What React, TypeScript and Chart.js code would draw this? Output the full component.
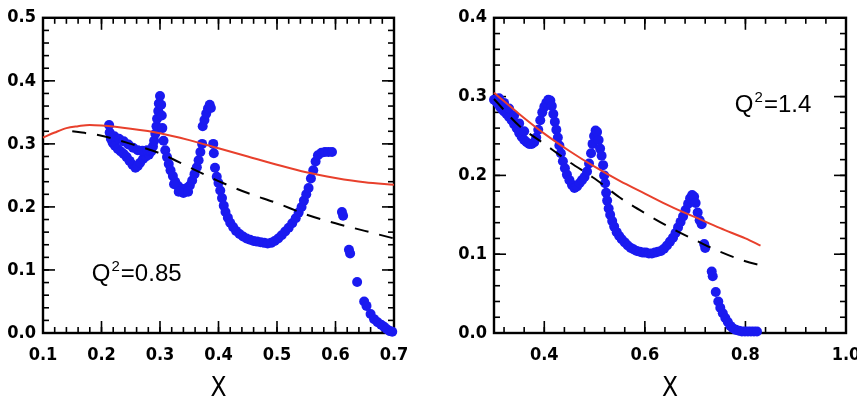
import React, { useEffect, useRef } from "react";
import { Chart, registerables } from "chart.js";

Chart.register(...registerables);

// ---------- Left panel (Q^2 = 0.85) ----------
const LEFT_BLUE_X = [
  0.213, 0.214, 0.216, 0.219, 0.223, 0.228, 0.233, 0.238, 0.243, 0.248, 0.253, 0.258, 0.262, 0.266, 0.271,
  0.276, 0.281, 0.285, 0.288, 0.290, 0.292, 0.294, 0.295, 0.297, 0.298, 0.300, 0.302, 0.303, 0.304, 0.306,
  0.309, 0.312, 0.315, 0.318, 0.322, 0.326, 0.331, 0.336, 0.341, 0.346, 0.351, 0.355, 0.359, 0.363, 0.366,
  0.369, 0.372, 0.373, 0.376, 0.379, 0.382, 0.385, 0.387,
  0.391, 0.392, 0.394, 0.397, 0.400, 0.403, 0.406, 0.409, 0.412, 0.416, 0.420, 0.425, 0.430, 0.436, 0.442,
  0.448, 0.454, 0.460, 0.466, 0.472, 0.478, 0.484, 0.490, 0.496, 0.502, 0.508, 0.514, 0.520, 0.526, 0.532,
  0.537, 0.542, 0.546, 0.550, 0.554, 0.558, 0.562, 0.566, 0.570, 0.576, 0.582, 0.588, 0.594,
  0.611, 0.613, 0.623, 0.625, 0.637, 0.649, 0.653, 0.660, 0.666, 0.672, 0.678, 0.683, 0.688, 0.693, 0.697,
  0.222, 0.230, 0.238, 0.246, 0.254, 0.262, 0.270, 0.278, 0.324, 0.332, 0.340, 0.348,
];
const LEFT_BLUE_Y = [
  0.330, 0.318, 0.308, 0.302, 0.297, 0.292, 0.288, 0.284, 0.279, 0.273, 0.267, 0.262, 0.265, 0.270, 0.276,
  0.280, 0.283, 0.288, 0.296, 0.305, 0.316, 0.328, 0.340, 0.352, 0.364, 0.376, 0.362, 0.345, 0.325, 0.305,
  0.290, 0.279, 0.268, 0.258, 0.249, 0.240, 0.233, 0.229, 0.228, 0.230, 0.234, 0.242, 0.252, 0.263, 0.274,
  0.287, 0.300, 0.328, 0.338, 0.348, 0.356, 0.362, 0.357,
  0.300, 0.285, 0.262, 0.248, 0.238, 0.226, 0.214, 0.202, 0.192, 0.183, 0.175, 0.168, 0.162, 0.157, 0.153,
  0.150, 0.148, 0.146, 0.145, 0.144, 0.143, 0.142, 0.143, 0.146, 0.150, 0.155, 0.161, 0.167, 0.174, 0.182,
  0.191, 0.200, 0.210, 0.220, 0.230, 0.245, 0.258, 0.272, 0.282, 0.286, 0.287, 0.287, 0.287,
  0.192, 0.186, 0.132, 0.126, 0.081, 0.050, 0.043, 0.030, 0.022, 0.017, 0.013, 0.010, 0.006, 0.003, 0.002,
  0.312, 0.308, 0.304, 0.299, 0.294, 0.290, 0.289, 0.290, 0.236, 0.224, 0.222, 0.224,
];
const LEFT_RED_X = [0.1, 0.12, 0.14, 0.16, 0.18, 0.2, 0.25, 0.3, 0.35, 0.4, 0.45, 0.5, 0.55, 0.6, 0.65, 0.7];
const LEFT_RED_Y = [0.310, 0.318, 0.325, 0.328, 0.330, 0.329, 0.324, 0.317, 0.306, 0.293, 0.280, 0.267, 0.255, 0.246, 0.239, 0.235];
const LEFT_DASH_X = [0.15, 0.2, 0.25, 0.3, 0.35, 0.4, 0.45, 0.5, 0.55, 0.6, 0.65, 0.7];
const LEFT_DASH_Y = [0.320, 0.313, 0.300, 0.285, 0.263, 0.241, 0.222, 0.206, 0.188, 0.174, 0.162, 0.150];
const LEFT_X_TICKS = [0.1, 0.2, 0.3, 0.4, 0.5, 0.6, 0.7];
const LEFT_Y_TICKS = [0.0, 0.1, 0.2, 0.3, 0.4, 0.5];

// ---------- Right panel (Q^2 = 1.4) ----------
const RIGHT_BLUE_X = [
  0.300, 0.304, 0.308, 0.312, 0.316, 0.320, 0.325, 0.330, 0.335, 0.340, 0.345, 0.350, 0.355, 0.360, 0.365,
  0.370, 0.375, 0.380, 0.384, 0.388, 0.392, 0.396, 0.400, 0.404, 0.408, 0.412, 0.415, 0.418, 0.421, 0.424,
  0.427, 0.430, 0.433, 0.437, 0.441, 0.445, 0.450, 0.455, 0.460, 0.465, 0.470, 0.475, 0.480, 0.485, 0.489,
  0.493, 0.496, 0.499, 0.502, 0.505, 0.508, 0.511, 0.514, 0.517, 0.519, 0.521, 0.523, 0.525, 0.528, 0.531,
  0.535, 0.539, 0.544, 0.549, 0.554, 0.560, 0.566, 0.572, 0.578, 0.584, 0.590, 0.596, 0.602, 0.608, 0.614,
  0.620, 0.626, 0.632, 0.638, 0.644, 0.650, 0.656, 0.661, 0.666, 0.671, 0.676, 0.681, 0.686, 0.690, 0.694,
  0.698, 0.701, 0.705, 0.709, 0.713, 0.718, 0.720, 0.733, 0.735, 0.741, 0.746, 0.750, 0.755, 0.760, 0.765,
  0.770, 0.775, 0.781, 0.787, 0.793, 0.799, 0.805, 0.811, 0.817, 0.823,
  0.310, 0.320, 0.330, 0.340, 0.350, 0.360,
];
const RIGHT_BLUE_Y = [
  0.296, 0.294, 0.291, 0.287, 0.284, 0.281, 0.278, 0.274, 0.270, 0.265, 0.260, 0.254, 0.249, 0.245, 0.242,
  0.240, 0.240, 0.242, 0.248, 0.258, 0.270, 0.280, 0.287, 0.292, 0.296, 0.295, 0.288, 0.278, 0.268, 0.258,
  0.248, 0.238, 0.228, 0.218, 0.209, 0.201, 0.194, 0.188, 0.184, 0.186, 0.190, 0.194, 0.198, 0.205, 0.215,
  0.228, 0.240, 0.250, 0.257, 0.255, 0.245, 0.234, 0.225, 0.213, 0.200, 0.190, 0.178, 0.168, 0.158, 0.150,
  0.142, 0.135, 0.128, 0.123, 0.119, 0.115, 0.111, 0.108, 0.106, 0.104, 0.103, 0.102, 0.102, 0.101, 0.101,
  0.102, 0.103, 0.104, 0.107, 0.111, 0.116, 0.121, 0.127, 0.134, 0.141, 0.148, 0.156, 0.164, 0.171, 0.175,
  0.173, 0.165, 0.153, 0.143, 0.138, 0.113, 0.108, 0.078, 0.072, 0.052, 0.040, 0.032, 0.025, 0.019, 0.014,
  0.009, 0.006, 0.004, 0.003, 0.002, 0.002, 0.002, 0.002, 0.002, 0.002,
  0.298, 0.292, 0.285, 0.276, 0.266, 0.256,
];
const RIGHT_RED_X = [0.3, 0.35, 0.4, 0.45, 0.5, 0.55, 0.6, 0.65, 0.7, 0.75, 0.8, 0.83];
const RIGHT_RED_Y = [0.305, 0.278, 0.253, 0.231, 0.211, 0.193, 0.177, 0.161, 0.147, 0.133, 0.120, 0.111];
const RIGHT_DASH_X = [0.3, 0.35, 0.4, 0.45, 0.5, 0.55, 0.6, 0.65, 0.7, 0.75, 0.8, 0.83];
const RIGHT_DASH_Y = [0.297, 0.263, 0.240, 0.217, 0.196, 0.172, 0.152, 0.134, 0.118, 0.103, 0.091, 0.086];
const RIGHT_X_TICKS = [0.4, 0.6, 0.8, 1.0];
const RIGHT_Y_TICKS = [0.0, 0.1, 0.2, 0.3, 0.4];

const BLUE = "#1a1af0";
const RED = "#e8402c";
const TICK_FONT = '"Liberation Sans Narrow", "DejaVu Sans Condensed", "Liberation Sans", Arial, sans-serif';
const TEXT_FONT = '"Liberation Sans", Arial, sans-serif';

const zip = (xs: number[], ys: number[]) => xs.map((x, i) => ({ x, y: ys[i] }));
const range = (a: number, b: number, s: number) => {
  const out: number[] = [];
  for (let v = a; v <= b + 1e-9; v += s) out.push(Math.round(v * 1000) / 1000);
  return out;
};

const frameTicksPlugin = {
  id: "frameTicks",
  beforeDatasetsDraw(chart: any, _a: any, opts: any) {
    const { ctx, chartArea, scales } = chart;
    const { left, right, top, bottom } = chartArea;
    const xs = scales.x;
    const ys = scales.y;
    ctx.save();
    ctx.strokeStyle = "#000";
    ctx.lineWidth = 1.6;
    const seg = (x1: number, y1: number, x2: number, y2: number) => {
      ctx.beginPath();
      ctx.moveTo(x1, y1);
      ctx.lineTo(x2, y2);
      ctx.stroke();
    };
    const drawX = (vals: number[], len: number) => {
      for (const v of vals) {
        const p = xs.getPixelForValue(v);
        if (p < left - 0.5 || p > right + 0.5) continue;
        seg(p, bottom, p, bottom - len);
        seg(p, top, p, top + len);
      }
    };
    const drawY = (vals: number[], len: number) => {
      for (const v of vals) {
        const p = ys.getPixelForValue(v);
        if (p < top - 0.5 || p > bottom + 0.5) continue;
        seg(left, p, left + len, p);
        seg(right, p, right - len, p);
      }
    };
    drawX(opts.xMinor, 6);
    drawX(opts.xMajor, 12);
    drawY(opts.yMinor, 6);
    drawY(opts.yMajor, 12);
    ctx.lineWidth = 2.4;
    ctx.strokeRect(left, top, right - left, bottom - top);
    ctx.restore();
  },
};

const labelPlugin = {
  id: "qlabel",
  afterDatasetsDraw(chart: any, _a: any, opts: any) {
    const { ctx, scales } = chart;
    const x = scales.x.getPixelForValue(opts.x);
    const y = scales.y.getPixelForValue(opts.y);
    ctx.save();
    ctx.fillStyle = "#000";
    ctx.textBaseline = "alphabetic";
    ctx.textAlign = "left";
    ctx.font = `24px ${TEXT_FONT}`;
    ctx.fillText("Q", x, y);
    const wq = ctx.measureText("Q").width;
    ctx.font = `15px ${TEXT_FONT}`;
    ctx.fillText("2", x + wq + 1, y - 10);
    const w2 = ctx.measureText("2").width;
    ctx.font = `24px ${TEXT_FONT}`;
    ctx.fillText(opts.rest, x + wq + w2 + 2, y);
    ctx.restore();
  },
};

type PanelProps = {
  blue: { x: number; y: number }[];
  red: { x: number; y: number }[];
  dash: { x: number; y: number }[];
  xMin: number;
  xMax: number;
  yMax: number;
  xTicks: number[];
  yTicks: number[];
  xMinorStep: number;
  yMinorStep: number;
  yAxisWidth: number;
  rightPad: number;
  width: number;
  left: number;
  label: { x: number; y: number; rest: string };
};

function Panel(p: PanelProps) {
  const ref = useRef<HTMLCanvasElement | null>(null);
  useEffect(() => {
    if (!ref.current) return;
    const tickFont = { family: TICK_FONT, size: 18, weight: "bold" as const };
    const chart = new Chart(ref.current, {
      type: "scatter",
      data: {
        datasets: [
          {
            data: p.red,
            showLine: true,
            borderColor: RED,
            borderWidth: 2,
            pointRadius: 0,
            cubicInterpolationMode: "monotone",
            order: 1,
            clip: false,
          } as any,
          {
            data: p.dash,
            showLine: true,
            borderColor: "#000",
            borderWidth: 2,
            borderDash: [14, 11],
            pointRadius: 0,
            cubicInterpolationMode: "monotone",
            order: 2,
            clip: false,
          } as any,
          {
            data: p.blue,
            showLine: false,
            pointRadius: 5,
            pointBackgroundColor: BLUE,
            pointBorderWidth: 0,
            order: 3,
            clip: false,
          } as any,
        ],
      },
      options: {
        responsive: false,
        maintainAspectRatio: false,
        animation: false,
        events: [],
        layout: { padding: { top: 15, right: p.rightPad, left: 0, bottom: 0 } },
        plugins: {
          legend: { display: false },
          tooltip: { enabled: false },
          frameTicks: {
            xMajor: p.xTicks.concat([p.xMin]),
            yMajor: p.yTicks,
            xMinor: range(p.xMin - ((p.xMin * 1000) % (p.xMinorStep * 1000)) / 1000, p.xMax, p.xMinorStep),
            yMinor: range(0, p.yMax, p.yMinorStep),
          },
          qlabel: p.label,
        } as any,
        scales: {
          x: {
            type: "linear",
            min: p.xMin,
            max: p.xMax,
            afterBuildTicks: (s: any) => {
              s.ticks = p.xTicks.map((v) => ({ value: v }));
            },
            afterFit: (s: any) => {
              s.height = 76;
            },
            grid: { display: false, drawTicks: false },
            border: { display: false },
            ticks: {
              autoSkip: false,
              maxRotation: 0,
              padding: 12,
              color: "#000",
              font: tickFont,
              callback: (v: any) => Number(v).toFixed(1),
            },
            title: {
              display: true,
              text: "X",
              color: "#000",
              font: { family: TICK_FONT, size: 26 },
              padding: { top: 0, bottom: 4 },
            },
          },
          y: {
            type: "linear",
            min: 0,
            max: p.yMax,
            afterBuildTicks: (s: any) => {
              s.ticks = p.yTicks.map((v) => ({ value: v }));
            },
            afterFit: (s: any) => {
              s.width = p.yAxisWidth;
            },
            grid: { display: false, drawTicks: false },
            border: { display: false },
            ticks: {
              autoSkip: false,
              padding: 7,
              color: "#000",
              font: tickFont,
              callback: (v: any) => Number(v).toFixed(1),
            },
          },
        },
      },
      plugins: [frameTicksPlugin, labelPlugin],
    });
    return () => chart.destroy();
  }, []);
  return (
    <canvas
      ref={ref}
      width={p.width}
      height={409}
      style={{ position: "absolute", left: p.left, top: 0, width: p.width, height: 409, display: "block" }}
    />
  );
}

export default function App() {
  return (
    <div
      style={{
        position: "fixed",
        left: 0,
        top: 0,
        width: 857,
        height: 409,
        overflow: "hidden",
        background: "#fff",
      }}
    >
      <Panel
        blue={zip(LEFT_BLUE_X, LEFT_BLUE_Y)}
        red={zip(LEFT_RED_X, LEFT_RED_Y)}
        dash={zip(LEFT_DASH_X, LEFT_DASH_Y)}
        xMin={0.1}
        xMax={0.7}
        yMax={0.5}
        xTicks={LEFT_X_TICKS}
        yTicks={LEFT_Y_TICKS}
        xMinorStep={0.02}
        yMinorStep={0.02}
        yAxisWidth={43}
        rightPad={36}
        width={430}
        left={0}
        label={{ x: 0.1835, y: 0.082, rest: "=0.85" }}
      />
      <Panel
        blue={zip(RIGHT_BLUE_X, RIGHT_BLUE_Y)}
        red={zip(RIGHT_RED_X, RIGHT_RED_Y)}
        dash={zip(RIGHT_DASH_X, RIGHT_DASH_Y)}
        xMin={0.3}
        xMax={1.0}
        yMax={0.4}
        xTicks={RIGHT_X_TICKS}
        yTicks={RIGHT_Y_TICKS}
        xMinorStep={0.04}
        yMinorStep={0.02}
        yAxisWidth={64}
        rightPad={34}
        width={450}
        left={430}
        label={{ x: 0.779, y: 0.28, rest: "=1.4" }}
      />
    </div>
  );
}
